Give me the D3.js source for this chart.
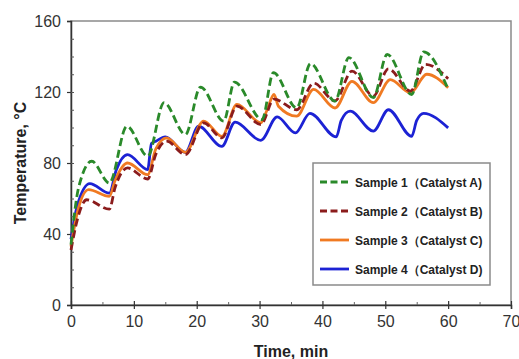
<!DOCTYPE html>
<html>
<head>
<meta charset="utf-8">
<script src="https://cdn.jsdelivr.net/npm/d3@7"></script>
<style>
body{margin:0;background:#fff;}
text{font-family:"Liberation Sans",Arial,sans-serif;}
</style>
</head>
<body>
<svg id="chart" width="519" height="359"></svg>
<script>
// data: [time (min), temperature (C)]
var sample1 = [[0,34],[1.2,66],[3.3,81],[6.1,68.7],[8.9,100.7],[12.2,83.8],[14.8,114],[18.2,96],[20.6,122.8],[24.3,103.6],[26,125.6],[30.4,104.5],[32.2,130.9],[35.9,111],[38.1,136],[42,114.9],[44.2,139.4],[48.1,116.8],[50.3,141.2],[54.2,118.6],[56.1,142.6],[60,121.5]];
var sample2 = [[0,31],[1,48],[2.5,59.3],[6.1,54],[7,66],[9,77.2],[12.2,71],[13.5,85],[15.2,92.3],[18.2,84.7],[21.1,102.6],[24,94.2],[26.4,112],[30.2,101.7],[32.3,116],[35.9,110],[38.6,125],[42,115],[44.7,131.8],[48.1,117.7],[50.5,133],[54,120.5],[56.4,135.6],[60,127.5]];
var sample3 = [[0,33],[1,52],[2.8,65],[6.1,61.2],[7,70],[9,80],[12.2,73.4],[13.5,88],[15.2,94.2],[18.2,86],[21.1,103.6],[24,95],[26.4,113],[30.2,102.6],[31.2,110],[32.3,118.6],[33,112],[35.9,106.4],[38.6,121.5],[42,111],[44.7,126],[48.1,114],[50.8,127],[54,119.6],[56.6,130],[60,122.4]];
var sample4 = [[0,37],[1,56],[3,68.4],[6.1,63],[7.2,76],[9,84.7],[12.2,76.3],[12.8,91],[13.5,92.3],[15,94.7],[18.2,86],[20.3,100.7],[24,89.4],[26.1,103],[30.2,92.8],[32.8,106],[35.7,97],[38,108],[42.2,94.7],[43,104],[44.4,109.2],[48.1,98],[50.5,110],[54.2,95],[55,104],[56.1,108],[60,99.8]];
var seriesNames = ["Sample 1\uFF08Catalyst A)","Sample 2\uFF08Catalyst B)","Sample 3\uFF08Catalyst C)","Sample 4\uFF08Catalyst D)"];
var seriesColors = ["#2a8a2a","#8b1c1c","#f07a22","#1c22d4"];
var seriesDash = ["8,4","8,4",null,null];
var xTicks = [0,10,20,30,40,50,60,70];
var yTicks = [0,40,80,120,160];

var svg = d3.select("#chart");
var plotL = 71, plotT = 21, plotR = 511, plotB = 305;
var x = d3.scaleLinear().domain([0,70]).range([plotL,plotR]);
var y = d3.scaleLinear().domain([0,160]).range([plotB,plotT]);

// frame
svg.append("rect")
	.attr("x",plotL).attr("y",plotT)
	.attr("width",plotR-plotL).attr("height",plotB-plotT)
	.attr("fill","none").attr("stroke","#8a8a8a").attr("stroke-width",1.5);

// y axis
var gy = svg.append("g").attr("transform","translate("+plotL+",0)")
	.call(d3.axisLeft(y).tickValues(yTicks).tickSize(4).tickPadding(6));
gy.select(".domain").attr("stroke","#333").attr("stroke-width",1.5);
gy.selectAll("line").attr("stroke","#333").attr("stroke-width",1.2);
gy.selectAll("text").attr("font-size",16).attr("fill","#333");
svg.append("g").attr("transform","translate("+plotL+",0)")
	.call(d3.axisLeft(y).tickValues(d3.range(10,160,10)).tickSize(-3).tickFormat(""))
	.call(function(g){g.select(".domain").remove();g.selectAll("line").attr("stroke","#555");});

// x axis
var gx = svg.append("g").attr("transform","translate(0,"+plotB+")")
	.call(d3.axisBottom(x).tickValues(xTicks).tickSize(4).tickPadding(7));
gx.select(".domain").attr("stroke","#333").attr("stroke-width",1.5);
gx.selectAll("line").attr("stroke","#333").attr("stroke-width",1.2);
gx.selectAll("text").attr("font-size",16).attr("fill","#333");
svg.append("g").attr("transform","translate(0,"+plotB+")")
	.call(d3.axisBottom(x).tickValues(xTicks).tickSize(-4).tickFormat(""))
	.call(function(g){g.select(".domain").remove();g.selectAll("line").attr("stroke","#333").attr("stroke-width",1.2);});
svg.append("g").attr("transform","translate(0,"+plotB+")")
	.call(d3.axisBottom(x).tickValues(d3.range(5,70,10)).tickSize(-3).tickFormat(""))
	.call(function(g){g.select(".domain").remove();g.selectAll("line").attr("stroke","#666");});

// titles
svg.append("text")
	.attr("x",(plotL+plotR)/2).attr("y",357)
	.attr("text-anchor","middle").attr("font-size",16).attr("font-weight","bold").attr("fill","#222")
	.text("Time, min");
svg.append("text")
	.attr("transform","translate(26,"+((plotT+plotB)/2)+") rotate(-90)")
	.attr("text-anchor","middle").attr("font-size",16).attr("font-weight","bold").attr("fill","#222")
	.text("Temperature, \u00B0C");

// lines
var line = d3.line()
	.x(function(d){return x(d[0]);})
	.y(function(d){return y(d[1]);})
	.curve(d3.curveMonotoneX);
var allSeries = [sample1,sample2,sample3,sample4];
var drawOrder = [3,2,1,0];
drawOrder.forEach(function(i){
	svg.append("path")
		.datum(allSeries[i])
		.attr("d",line)
		.attr("fill","none")
		.attr("stroke",seriesColors[i])
		.attr("stroke-width",2.8)
		.attr("stroke-dasharray",seriesDash[i])
		.attr("stroke-linejoin","round");
});

// legend
var lg = svg.append("g");
lg.append("rect")
	.attr("x",313).attr("y",163).attr("width",177).attr("height",122)
	.attr("fill","#fff").attr("stroke","#8a8a8a").attr("stroke-width",1.5);
for(var i = 0; i < seriesNames.length; i++){
	var ly = 182 + i*29;
	lg.append("line")
		.attr("x1",320).attr("x2",349).attr("y1",ly).attr("y2",ly)
		.attr("stroke",seriesColors[i]).attr("stroke-width",2.8)
		.attr("stroke-dasharray",seriesDash[i] ? "7,3.5" : null);
	lg.append("text")
		.attr("x",355).attr("y",ly+4.5)
		.attr("font-size",12).attr("font-weight","bold").attr("fill","#222")
		.text(seriesNames[i]);
}
</script>
</body>
</html>
